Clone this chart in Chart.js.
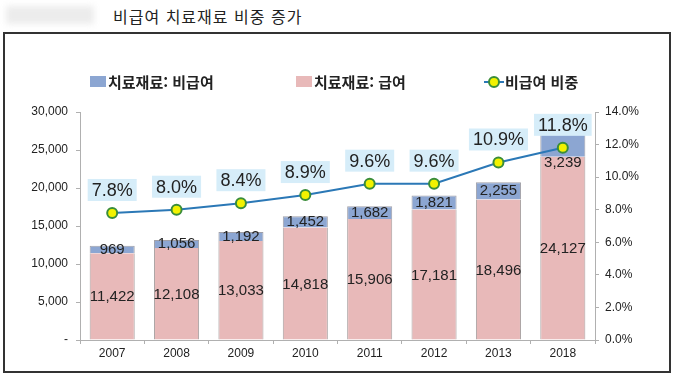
<!DOCTYPE html>
<html lang="ko">
<head>
<meta charset="utf-8">
<script src="https://cdn.jsdelivr.net/npm/chart.js@4"></script>
<style>
  body { margin: 0; background: #fff; width: 680px; height: 380px; position: relative; overflow: hidden; }
  #smudge { position: absolute; left: 6px; top: 6px; width: 88px; height: 18px; background: #ececec; filter: blur(3px); }
  #title { position: absolute; left: 113px; top: 4px; font: 16px "Noto Sans CJK KR", sans-serif; letter-spacing: 1px; color: #222; }
  #frame { position: absolute; left: 3px; top: 32px; width: 664px; height: 337px; border: 2px solid #333; }
  #chart { position: absolute; left: 0; top: 0; }
  .lg { position: absolute; top: 71px; font: bold 15px "Noto Sans CJK KR", sans-serif; color: #222; display: flex; align-items: center; }
  .sw { width: 16px; height: 11px; margin-right: 2px; }
</style>
</head>
<body>
<div id="smudge"></div>
<div id="title">비급여 치료재료 비중 증가</div>
<div id="frame"></div>
<canvas id="chart" width="680" height="380"></canvas>
<div class="lg" style="left:90px"><span class="sw" style="background:#8ca6d2"></span>치료재료: 비급여</div>
<div class="lg" style="left:296px"><span class="sw" style="background:#e8b9b9"></span>치료재료: 급여</div>
<div class="lg" style="left:484px"><svg width="20" height="14" style="margin-right:1px"><line x1="0" y1="7" x2="20" y2="7" stroke="#2b78b6" stroke-width="2"/><circle cx="10" cy="7" r="5" fill="#f2f200" stroke="#3a8d3a" stroke-width="2"/></svg>비급여 비중</div>
<script>
const years = ["2007", "2008", "2009", "2010", "2011", "2012", "2013", "2018"];
const covered = [11422, 12108, 13033, 14818, 15906, 17181, 18496, 24127];
const nonCovered = [969, 1056, 1192, 1452, 1682, 1821, 2255, 3239];
const ratio = [7.8, 8.0, 8.4, 8.9, 9.6, 9.6, 10.9, 11.8];

const fmt = (v) => v.toLocaleString("en-US");
const FONT = '"Liberation Sans", Arial, sans-serif';

const valueLabels = {
  id: "valueLabels",
  afterDatasetsDraw(chart) {
    const ctx = chart.ctx;
    const cov = chart.getDatasetMeta(0).data;
    const non = chart.getDatasetMeta(1).data;
    const pts = chart.getDatasetMeta(2).data;
    ctx.save();
    ctx.textAlign = "center";
    ctx.textBaseline = "middle";
    ctx.fillStyle = "#222";
    ctx.font = "15px " + FONT;
    cov.forEach((bar, i) => {
      ctx.fillText(fmt(covered[i]), bar.x, (bar.y + bar.base) / 2 + 1);
    });
    non.forEach((bar, i) => {
      let y = (bar.y + bar.base) / 2;
      // push the label below the marker when they would overlap
      if (Math.abs(y - pts[i].y) < 14) y = pts[i].y + 15;
      ctx.fillText(fmt(nonCovered[i]), bar.x, y);
    });
    ctx.font = "18px " + FONT;
    pts.forEach((pt, i) => {
      const txt = ratio[i].toFixed(1) + "%";
      const w = ctx.measureText(txt).width;
      const cy = pt.y - 23;
      ctx.fillStyle = "#d6edf9";
      ctx.fillRect(pt.x - w / 2 - 4, cy - 11, w + 8, 22);
      ctx.fillStyle = "#222";
      ctx.fillText(txt, pt.x, cy + 1);
    });
    ctx.restore();
  }
};

new Chart(document.getElementById("chart"), {
  type: "bar",
  data: {
    labels: years,
    datasets: [
      {
        label: "치료재료: 급여",
        data: covered,
        backgroundColor: "#e8b9b9",
        borderColor: "#a8a0a0",
        borderWidth: { left: 1, right: 1, top: 0, bottom: 0 },
        borderSkipped: false,
        barPercentage: 0.7,
        categoryPercentage: 1,
        order: 1
      },
      {
        label: "치료재료: 비급여",
        data: nonCovered,
        backgroundColor: "#8ca6d2",
        borderColor: "#a0a0a8",
        borderWidth: { left: 1, right: 1, top: 1, bottom: 0 },
        borderSkipped: false,
        barPercentage: 0.7,
        categoryPercentage: 1,
        order: 1
      },
      {
        type: "line",
        label: "비급여 비중",
        data: ratio,
        yAxisID: "y1",
        borderColor: "#2b78b6",
        borderWidth: 2,
        pointRadius: 5,
        pointBackgroundColor: "#f2f200",
        pointBorderColor: "#3a8d3a",
        pointBorderWidth: 2,
        tension: 0,
        order: 0
      }
    ]
  },
  options: {
    responsive: false,
    animation: false,
    layout: { padding: { top: 112, left: 0, right: 0, bottom: 0 } },
    plugins: { legend: { display: false }, tooltip: { enabled: false } },
    scales: {
      x: {
        stacked: true,
        afterFit: (s) => { s.height = 40; },
        border: { color: "#b0b0b0" },
        grid: { offset: true, drawOnChartArea: false, tickLength: 4, color: "#b0b0b0" },
        ticks: { color: "#222", font: { family: FONT, size: 12 }, padding: 2 }
      },
      y: {
        stacked: true,
        min: 0,
        max: 30000,
        afterFit: (s) => { s.width = 80; },
        border: { color: "#b0b0b0" },
        grid: { drawOnChartArea: false, tickLength: 4, color: "#b0b0b0" },
        ticks: {
          stepSize: 5000,
          color: "#222",
          font: { family: FONT, size: 12 },
          padding: 8,
          callback: (v) => (v === 0 ? "-" : fmt(v))
        }
      },
      y1: {
        position: "right",
        min: 0,
        max: 14,
        afterFit: (s) => { s.width = 85; },
        border: { color: "#b0b0b0" },
        grid: { drawOnChartArea: false, tickLength: 4, color: "#b0b0b0" },
        ticks: {
          stepSize: 2,
          color: "#222",
          font: { family: FONT, size: 12 },
          padding: 6,
          callback: (v) => v.toFixed(1) + "%"
        }
      }
    }
  },
  plugins: [valueLabels]
});
</script>
</body>
</html>
